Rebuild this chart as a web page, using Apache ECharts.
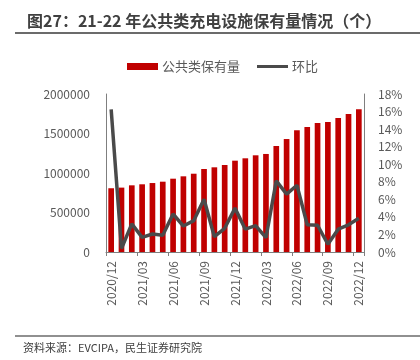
<!DOCTYPE html>
<html><head><meta charset="utf-8">
<script src="https://cdn.jsdelivr.net/npm/echarts@6/dist/echarts.min.js"></script>
<style>html,body{margin:0;padding:0;background:#fff}#c{width:420px;height:360px}</style>
</head><body><div id="c"></div>
<script>
var categories = ['2020/12','2021/01','2021/02','2021/03','2021/04','2021/05','2021/06','2021/07','2021/08','2021/09','2021/10','2021/11','2021/12','2022/01','2022/02','2022/03','2022/04','2022/05','2022/06','2022/07','2022/08','2022/09','2022/10','2022/11','2022/12'];
var stockValues = [807000,815000,844000,857000,873000,890000,928000,958000,991000,1051000,1072000,1101000,1156000,1186000,1224000,1241000,1342000,1430000,1541000,1582000,1633000,1646000,1696000,1747000,1808000];
var momValues = [16.25,0.4,3.2,1.67,2.05,1.9,4.33,2.96,3.57,6.0,1.74,2.7,5.0,2.6,3.0,1.63,8.1,6.6,7.6,3.1,3.05,0.88,2.6,3.1,3.84];
var leftTicks = [0,500000,1000000,1500000,2000000];
var rightTicks = [0,2,4,6,8,10,12,14,16,18];
var titleText = '图27：21-22 年公共类充电设施保有量情况（个）';
var sourceText = '资料来源：EVCIPA，民生证券研究院';

var font = '"Noto Sans CJK SC", "Noto Sans", sans-serif';
var chart = echarts.init(document.getElementById('c'), null, {renderer:'canvas'});
chart.setOption({
  animation:false,
  textStyle:{fontFamily:font},
  title:{text:titleText,left:22,top:8,textStyle:{fontSize:16,fontWeight:'bold',color:'#404040',fontFamily:font}},
  graphic:[
    {type:'line',shape:{x1:15,y1:33,x2:420,y2:33},style:{stroke:'#6b6b6b',lineWidth:2}},
    {type:'line',shape:{x1:15,y1:336,x2:420,y2:336},style:{stroke:'#6b6b6b',lineWidth:1.5}},
    {type:'text',left:23,top:342,style:{text:sourceText,fontSize:11,fill:'#404040',fontFamily:font}}
  ],
  legend:{top:55,left:122,itemGap:17,itemWidth:31,itemHeight:7,
    textStyle:{fontSize:13,color:'#595959',fontFamily:font,padding:[0,0,0,-1]},
    data:[{name:'公共类保有量',icon:'rect'},
          {name:'环比',icon:'path://M0,0L31,0L31,3L0,3Z',itemStyle:{color:'#4a4a4a'}}]},
  grid:{left:106,right:56,top:94,bottom:108},
  xAxis:{type:'category',data:categories,
    axisLine:{lineStyle:{color:'#7f7f7f'}},
    axisTick:{show:true,interval:2,length:4,lineStyle:{color:'#7f7f7f'}},
    axisLabel:{interval:2,rotate:90,fontSize:12,color:'#595959',margin:9,fontFamily:font}},
  yAxis:[
    {type:'value',min:0,max:2000000,interval:500000,
      axisLine:{show:true,lineStyle:{color:'#7f7f7f'}},axisTick:{show:false},splitLine:{show:false},
      axisLabel:{fontSize:12,color:'#595959',margin:16,fontFamily:font,formatter:function(v){return String(v);}}},
    {type:'value',min:0,max:18,interval:2,
      axisLine:{show:true,lineStyle:{color:'#7f7f7f'}},axisTick:{show:false},splitLine:{show:false},
      axisLabel:{fontSize:12,color:'#595959',margin:14,formatter:'{value}%',fontFamily:font}}
  ],
  series:[
    {name:'公共类保有量',type:'bar',data:stockValues,barWidth:'55%',itemStyle:{color:'#C00000'}},
    {name:'环比',type:'line',yAxisIndex:1,data:momValues,symbol:'none',
      lineStyle:{color:'#4a4a4a',width:3.5},itemStyle:{color:'#4a4a4a'}}
  ]
});
</script></body></html>
